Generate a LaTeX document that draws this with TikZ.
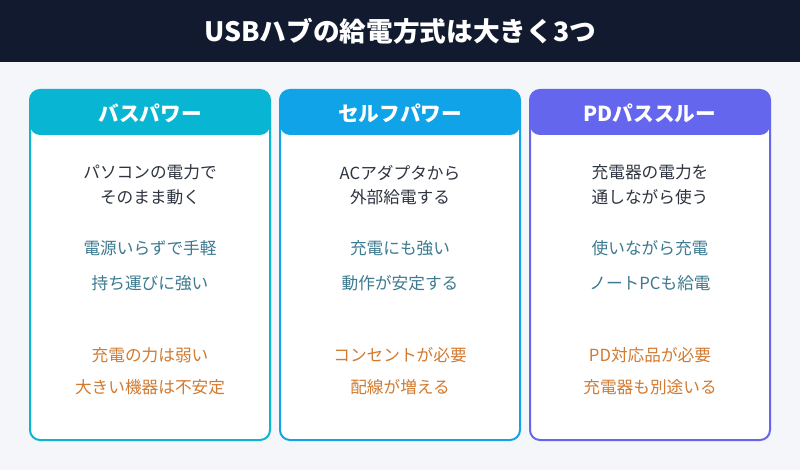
\documentclass[tikz,border=0pt]{standalone}
\usepackage{fontspec}
\setmainfont{Noto Sans CJK JP}
\definecolor{navy}{HTML}{111A2E}
\definecolor{bg}{HTML}{F4F6F9}
\definecolor{cA}{HTML}{08B6D3}
\definecolor{cB}{HTML}{10A3E8}
\definecolor{cC}{HTML}{6466EE}
\definecolor{dtext}{HTML}{2E3440}
\definecolor{ptext}{HTML}{3C7A90}
\definecolor{ctext}{HTML}{D27A30}
\tikzset{
  card/.style={draw=#1, line width=1.5pt, fill=white, rounded corners=7.5pt},
  head/.style={fill=#1, rounded corners=7.5pt},
  htxt/.style={text=white, font=\fontsize{15.5}{18}\selectfont\bfseries},
  desc/.style={text=dtext, align=center, font=\fontsize{12.5}{18.5}\selectfont},
  pro/.style={text=ptext, font=\fontsize{12.5}{14}\selectfont},
  con/.style={text=ctext, font=\fontsize{12.5}{14}\selectfont},
}
\begin{document}
\begin{tikzpicture}[x=0.75pt,y=-0.75pt]
\useasboundingbox (0,0) rectangle (800,470);
\fill[bg] (0,0) rectangle (800,470);
\fill[navy] (0,0) rectangle (800,62);
\node[text=white, font=\fontsize{20}{24}\selectfont\bfseries] (title) at (400,31) {USBハブの給電方式は大きく3つ};
\foreach \x/\c/\n in {30/cA/a, 280/cB/b, 530/cC/c}{
  \draw[card=\c] (\x,90) rectangle (\x+240,440);
  \fill[head=\c] (\x,90) rectangle (\x+240,135);
}
\node[htxt] (ha) at (150,113) {バスパワー};
\node[htxt] (hb) at (400,113) {セルフパワー};
\node[htxt] (hc) at (650,113) {PDパススルー};
\node[desc] (da) at (150,185) {パソコンの電力で\\そのまま動く};
\node[desc] (db) at (400,185) {ACアダプタから\\外部給電する};
\node[desc] (dc) at (650,185) {充電器の電力を\\通しながら使う};
\node[pro] (pa1) at (150,248) {電源いらずで手軽};
\node[pro] (pa2) at (150,283) {持ち運びに強い};
\node[pro] (pb1) at (400,248) {充電にも強い};
\node[pro] (pb2) at (400,283) {動作が安定する};
\node[pro] (pc1) at (650,248) {使いながら充電};
\node[pro] (pc2) at (650,283) {ノートPCも給電};
\node[con] (ca1) at (150,355) {充電の力は弱い};
\node[con] (ca2) at (150,387) {大きい機器は不安定};
\node[con] (cb1) at (400,355) {コンセントが必要};
\node[con] (cb2) at (400,387) {配線が増える};
\node[con] (cc1) at (650,355) {PD対応品が必要};
\node[con] (cc2) at (650,387) {充電器も別途いる};
\end{tikzpicture}
\end{document}
